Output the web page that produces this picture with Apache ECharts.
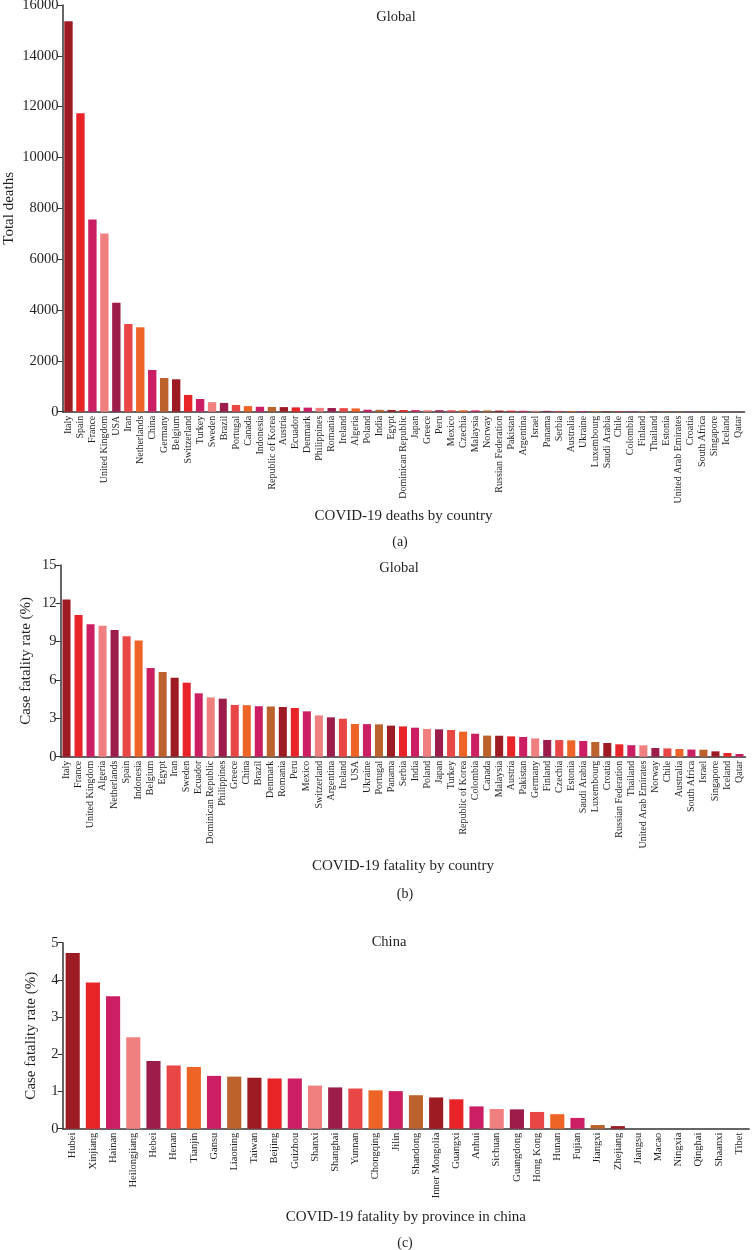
<!DOCTYPE html>
<html>
<head>
<meta charset="utf-8">
<script src="https://cdn.jsdelivr.net/npm/echarts@6/dist/echarts.min.js"></script>
<style>html,body{margin:0;padding:0;background:#fff}#c{width:752px;height:1250px}</style>
</head>
<body>
<div id="c"></div>
<script>
// Panel (a): COVID-19 deaths by country
const deathCountries = ["Italy","Spain","France","United Kingdom","USA","Iran","Netherlands","China","Germany","Belgium","Switzerland","Turkey","Sweden","Brazil","Portugal","Canada","Indonesia","Republic of Korea","Austria","Ecuador","Denmark","Philippines","Romania","Ireland","Algeria","Poland","India","Egypt","Dominican Republic","Japan","Greece","Peru","Mexico","Czechia","Malaysia","Norway","Russian Federation","Pakistan","Argentina","Israel","Panama","Serbia","Australia","Ukraine","Luxembourg","Saudi Arabia","Chile","Colombia","Finland","Thailand","Estonia","United Arab Emirates","Croatia","South Africa","Singapore","Iceland","Qatar"];
const deathValues = [15362,11744,7560,7010,4290,3450,3320,1640,1325,1275,660,500,375,345,266,220,195,185,180,170,160,150,145,140,130,78,74,70,65,62,60,58,56,54,52,50,45,41,38,36,34,32,30,28,26,24,22,20,18,16,14,12,10,8,6,5,4];

// Panel (b): COVID-19 fatality by country
const fatalityCountries = ["Italy","France","United Kingdom","Algeria","Netherlands","Spain","Indonesia","Belgium","Egypt","Iran","Sweden","Ecuador","Dominican Republic","Philippines","Greece","China","Brazil","Denmark","Romania","Peru","Mexico","Switzerland","Argentina","Ireland","USA","Ukraine","Portugal","Panama","Serbia","India","Poland","Japan","Turkey","Republic of Korea","Colombia","Canada","Malaysia","Austria","Pakistan","Germany","Finland","Czechia","Estonia","Saudi Arabia","Luxembourg","Croatia","Russian Federation","Thailand","United Arab Emirates","Norway","Chile","Australia","South Africa","Israel","Singapore","Iceland","Qatar"];
const fatalityValues = [12.31,11.09,10.36,10.25,9.91,9.42,9.10,6.94,6.63,6.18,5.79,4.96,4.64,4.54,4.05,4.03,3.95,3.93,3.89,3.81,3.55,3.23,3.08,2.97,2.56,2.55,2.53,2.43,2.37,2.27,2.17,2.14,2.09,1.96,1.80,1.65,1.64,1.59,1.54,1.43,1.31,1.30,1.28,1.23,1.15,1.07,0.97,0.90,0.89,0.68,0.65,0.60,0.56,0.55,0.42,0.29,0.21];

// Panel (c): COVID-19 fatality by province in china
const provinces = ["Hubei","Xinjiang","Hainan","Heilongjiang","Hebei","Henan","Tianjin","Gansu","Liaoning","Taiwan","Beijing","Guizhou","Shanxi","Shanghai","Yunnan","Chongqing","Jilin","Shandong","Inner Mongolia","Guangxi","Anhui","Sichuan","Guangdong","Hong Kong","Hunan","Fujian","Jiangxi","Zhejiang","Jiangsu","Macao","Ningxia","Qinghai","Shaanxi","Tibet"];
const provinceValues = [4.72,3.93,3.56,2.46,1.82,1.70,1.66,1.42,1.40,1.37,1.35,1.35,1.16,1.11,1.08,1.03,1.01,0.90,0.84,0.79,0.60,0.53,0.52,0.45,0.39,0.29,0.10,0.07,0,0,0,0,0,0];

const palette = ["#9d1c23","#e82428","#cc1f63","#f08080","#9c1c4c","#e94646","#ee6326","#cc1f63","#bb622d"];
const FONT = "Liberation Serif";
const INK = "#231f20";

function xAx(idx, cats, nameText, gap) {
  return {
    type: 'category', gridIndex: idx, data: cats,
    name: nameText, nameLocation: 'middle', nameGap: gap, nameMoveOverlap: false,
    nameTextStyle: {fontFamily: FONT, fontSize: 15, color: INK},
    axisLine: {lineStyle: {color: '#333', width: 1.5}},
    axisTick: {alignWithLabel: true, length: 4, lineStyle: {color: '#333', width: 1}},
    axisLabel: {rotate: 90, interval: 0, fontFamily: FONT, fontSize: idx === 2 ? 10.5 : 10, color: INK, margin: 4}
  };
}
function yAx(idx, max, interval, nameText, gap) {
  return {
    type: 'value', gridIndex: idx, min: 0, max: max, interval: interval,
    name: nameText, nameLocation: 'middle', nameGap: gap, nameMoveOverlap: false,
    nameTextStyle: {fontFamily: FONT, fontSize: 15, color: INK},
    axisLine: {show: true, lineStyle: {color: '#333', width: 1.5}},
    axisTick: {show: true, length: 5, lineStyle: {color: '#333', width: 1}},
    splitLine: {show: false},
    axisLabel: {fontFamily: FONT, fontSize: 14.5, color: INK, margin: 4, formatter: v => String(v)}
  };
}
function barSeries(idx, vals, w) {
  return {
    type: 'bar', xAxisIndex: idx, yAxisIndex: idx, data: vals, barWidth: w,
    itemStyle: {color: p => palette[p.dataIndex % palette.length]}
  };
}
function txt(s, x, y, size) {
  return {type: 'text', x: x, y: y, style: {text: s, fontFamily: FONT, fontSize: size, fill: INK, align: 'center', verticalAlign: 'middle'}};
}

const chart = echarts.init(document.getElementById('c'), null, {renderer: 'canvas'});
chart.setOption({
  animation: false,
  grid: [
    {left: 62.5, width: 682, top: 5, height: 406.7, outerBoundsMode: 'none', containLabel: false},
    {left: 60.5, width: 685, top: 565, height: 191.7, outerBoundsMode: 'none', containLabel: false},
    {left: 62.6, width: 686.5, top: 942.7, height: 186, outerBoundsMode: 'none', containLabel: false}
  ],
  xAxis: [
    xAx(0, deathCountries, 'COVID-19 deaths by country', 97),
    xAx(1, fatalityCountries, 'COVID-19 fatality by country', 102),
    xAx(2, provinces, 'COVID-19 fatality by province in china', 81)
  ],
  yAxis: [
    yAx(0, 16000, 2000, 'Total deaths', 46),
    yAx(1, 15, 3, 'Case fatality rate (%)', 27),
    yAx(2, 5, 1, 'Case fatality rate (%)', 24)
  ],
  series: [
    barSeries(0, deathValues, '70%'),
    barSeries(1, fatalityValues, '67%'),
    barSeries(2, provinceValues, '70%')
  ],
  graphic: [
    txt('Global', 396, 17, 14.5),
    txt('(a)', 400, 542, 14),
    txt('Global', 399, 568, 14.5),
    txt('(b)', 405, 894, 14),
    txt('China', 389, 942, 14.5),
    txt('(c)', 405, 1243, 14)
  ]
});
</script>
</body>
</html>
